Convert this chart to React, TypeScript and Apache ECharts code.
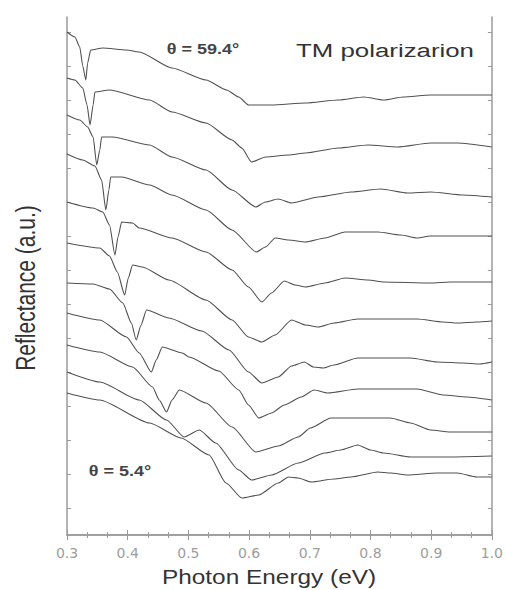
import React, { useEffect, useRef } from "react";
import * as echarts from "echarts";

// x: photon energy (eV), y: reflectance (a.u., curves offset vertically)
const curve1: [number, number][] = [
  [0.300, 503], [0.313, 498], [0.321, 488], [0.326, 469], [0.331, 455], [0.334, 472], [0.339, 485],
  [0.359, 487], [0.398, 485], [0.419, 483], [0.473, 467], [0.529, 455], [0.563, 445], [0.583, 438],
  [0.599, 430], [0.637, 430], [0.693, 432], [0.747, 435], [0.789, 438], [0.822, 435], [0.854, 438],
  [0.899, 440], [1.000, 440],
];
const curve2: [number, number][] = [
  [0.300, 457], [0.313, 455], [0.326, 447], [0.333, 430], [0.338, 410], [0.343, 430], [0.346, 443],
  [0.370, 445], [0.436, 435], [0.473, 423], [0.529, 412], [0.572, 395], [0.588, 387], [0.604, 373],
  [0.627, 378], [0.665, 380], [0.693, 382], [0.747, 387], [0.796, 390], [0.845, 388], [0.899, 392],
  [0.943, 392], [1.000, 388],
];
const curve3: [number, number][] = [
  [0.300, 420], [0.321, 415], [0.334, 408], [0.343, 398], [0.349, 370], [0.354, 385], [0.357, 398],
  [0.375, 398], [0.436, 390], [0.473, 378], [0.529, 365], [0.572, 345], [0.611, 328], [0.627, 333],
  [0.648, 336], [0.670, 332], [0.714, 338], [0.768, 343], [0.817, 346], [0.861, 342], [0.899, 343],
  [0.953, 340], [1.000, 338],
];
const curve4: [number, number][] = [
  [0.300, 381], [0.326, 375], [0.346, 369], [0.357, 355], [0.364, 325], [0.369, 345], [0.372, 358],
  [0.390, 358], [0.436, 350], [0.473, 340], [0.529, 325], [0.572, 305], [0.612, 283], [0.627, 288],
  [0.643, 297], [0.665, 295], [0.693, 293], [0.725, 297], [0.758, 303], [0.812, 303], [0.850, 300],
  [0.877, 297], [0.899, 299], [1.000, 299],
];
const curve5: [number, number][] = [
  [0.300, 333], [0.343, 327], [0.359, 323], [0.370, 310], [0.379, 280], [0.384, 298], [0.390, 313],
  [0.408, 312], [0.419, 307], [0.473, 297], [0.529, 283], [0.572, 265], [0.599, 248], [0.621, 233],
  [0.637, 242], [0.658, 254], [0.676, 250], [0.693, 248], [0.725, 252], [0.758, 257], [0.796, 255],
  [0.822, 253], [0.899, 252], [0.931, 253], [1.000, 253],
];
const curve6: [number, number][] = [
  [0.300, 292], [0.354, 287], [0.370, 279], [0.383, 263], [0.395, 240], [0.401, 257], [0.408, 270],
  [0.424, 268], [0.468, 255], [0.529, 235], [0.572, 215], [0.599, 198], [0.621, 193], [0.643, 200],
  [0.670, 215], [0.693, 210], [0.714, 208], [0.740, 212], [0.779, 216], [0.877, 216], [0.920, 213],
  [0.943, 212], [0.975, 213], [1.000, 214],
];
const curve7: [number, number][] = [
  [0.300, 252], [0.343, 251], [0.370, 246], [0.392, 232], [0.406, 212], [0.414, 195], [0.422, 210],
  [0.431, 225], [0.468, 217], [0.522, 204], [0.567, 185], [0.599, 163], [0.621, 152], [0.648, 158],
  [0.670, 169], [0.691, 173], [0.706, 168], [0.722, 167], [0.740, 170], [0.779, 177], [0.866, 177],
  [0.910, 173], [0.953, 172], [0.980, 171], [1.000, 173],
];
const curve8: [number, number][] = [
  [0.300, 222], [0.354, 215], [0.398, 198], [0.419, 182], [0.439, 163], [0.447, 175], [0.457, 188],
  [0.490, 182], [0.501, 178], [0.550, 164], [0.583, 145], [0.599, 130], [0.616, 117], [0.637, 122],
  [0.658, 130], [0.686, 138], [0.707, 145], [0.730, 142], [0.779, 146], [0.877, 146], [0.920, 140],
  [0.959, 138], [1.000, 135],
];
const curve9: [number, number][] = [
  [0.300, 190], [0.354, 183], [0.408, 168], [0.441, 148], [0.452, 135], [0.464, 123], [0.473, 135],
  [0.485, 145], [0.529, 132], [0.572, 108], [0.611, 83], [0.648, 89], [0.681, 98], [0.701, 107],
  [0.735, 117], [0.768, 117], [0.833, 117], [0.866, 112], [0.899, 105], [0.931, 103], [1.000, 103],
];
const curve10: [number, number][] = [
  [0.300, 163], [0.354, 153], [0.419, 135], [0.464, 115], [0.493, 98], [0.518, 105], [0.545, 92],
  [0.583, 65], [0.604, 55], [0.637, 60], [0.681, 72], [0.725, 82], [0.751, 85], [0.779, 90],
  [0.800, 85], [0.822, 82], [0.866, 78], [0.931, 78], [1.000, 79],
];
const curve11: [number, number][] = [
  [0.300, 142], [0.354, 135], [0.436, 112], [0.488, 97], [0.534, 80], [0.562, 52], [0.588, 37],
  [0.616, 40], [0.648, 52], [0.665, 58], [0.681, 57], [0.702, 53], [0.740, 56], [0.768, 58],
  [0.812, 63], [0.833, 62], [0.861, 60], [0.910, 62], [0.943, 62], [0.975, 58], [1.000, 58],
];

const curves = [curve1, curve2, curve3, curve4, curve5, curve6, curve7, curve8, curve9, curve10, curve11];
const yTickValues = [27, 61, 95, 129, 163, 197, 231, 265, 299, 333, 367, 401, 435, 469, 503];
const xMin = 0.3;
const xMax = 1.0;
const yMin = 0;
const yMax = 518;

const axisGray = "#9a9a9a";

export default function App() {
  const ref = useRef<HTMLDivElement>(null);
  useEffect(() => {
    const chart = echarts.init(ref.current!, null, { renderer: "svg" });
    const xAxisBase = {
      type: "value",
      min: xMin,
      max: xMax,
      interval: 0.1,
      splitLine: { show: false },
      axisLine: { show: true, lineStyle: { color: axisGray, width: 1.5 } },
      axisTick: { show: true, inside: true, length: 5, lineStyle: { color: axisGray } },
      minorTick: { show: true, splitNumber: 3, length: 3, lineStyle: { color: axisGray } },
    };
    const yAxisBase = {
      type: "value",
      min: yMin,
      max: yMax,
      splitLine: { show: false },
      axisLine: { show: true, lineStyle: { color: axisGray, width: 1.5 } },
      axisTick: { show: true, inside: true, length: 4, lineStyle: { color: axisGray }, customValues: yTickValues },
      axisLabel: { show: false },
    };
    chart.setOption({
      animation: false,
      backgroundColor: "#ffffff",
      grid: { left: 67, right: 11, top: 17, bottom: 55, containLabel: false },
      xAxis: [
        {
          ...xAxisBase,
          position: "bottom",
          axisLabel: {
            show: true,
            margin: 11,
            color: "#9d9d9d",
            fontFamily: "DejaVu Sans",
            fontSize: 14,
            formatter: (v: number) => v.toFixed(1),
          },
        },
        { ...xAxisBase, position: "top", axisLabel: { show: false } },
      ],
      yAxis: [
        { ...yAxisBase, position: "left" },
        { ...yAxisBase, position: "right" },
      ],
      series: curves.map((c, i) => ({
        type: "line",
        name: "curve" + (i + 1),
        data: c,
        xAxisIndex: 0,
        yAxisIndex: 0,
        symbol: "none",
        showSymbol: false,
        silent: true,
        smooth: 0.2,
        smoothMonotone: "x",
        lineStyle: { color: "#505050", width: 1.1 },
      })),
      graphic: [
        {
          type: "text",
          x: 203,
          y: 49,
          scaleX: 1.2,
          style: {
            text: "θ = 59.4°",
            fontFamily: "Liberation Sans",
            fontSize: 15,
            fontWeight: "bold",
            fill: "#444444",
            align: "center",
            verticalAlign: "middle",
          },
        },
        {
          type: "text",
          x: 385,
          y: 50,
          scaleX: 1.36,
          style: {
            text: "TM polarizarion",
            fontFamily: "Liberation Sans",
            fontSize: 19,
            fill: "#333333",
            align: "center",
            verticalAlign: "middle",
          },
        },
        {
          type: "text",
          x: 120,
          y: 471,
          scaleX: 1.2,
          style: {
            text: "θ = 5.4°",
            fontFamily: "Liberation Sans",
            fontSize: 15,
            fontWeight: "bold",
            fill: "#444444",
            align: "center",
            verticalAlign: "middle",
          },
        },
        {
          type: "text",
          x: 269,
          y: 577,
          scaleX: 1.22,
          style: {
            text: "Photon Energy (eV)",
            fontFamily: "Liberation Sans",
            fontSize: 20,
            fill: "#333333",
            align: "center",
            verticalAlign: "middle",
          },
        },
        {
          type: "text",
          x: 25,
          y: 288,
          rotation: Math.PI / 2,
          scaleY: 1.3,
          style: {
            text: "Reflectance (a.u.)",
            fontFamily: "Liberation Sans",
            fontSize: 21,
            fill: "#333333",
            align: "center",
            verticalAlign: "middle",
          },
        },
      ],
    });
    return () => chart.dispose();
  }, []);
  return (
    <div
      ref={ref}
      style={{ position: "fixed", left: 0, top: 0, width: 506, height: 590 }}
    />
  );
}
